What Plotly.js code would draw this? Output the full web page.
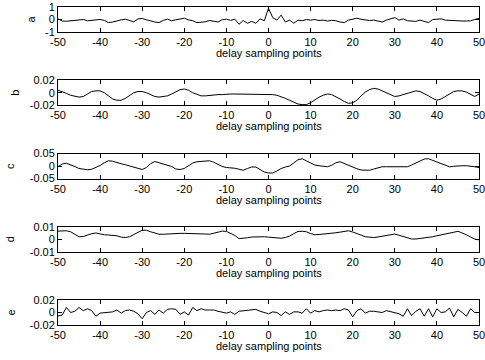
<!DOCTYPE html>
<html>
<head>
<meta charset="utf-8">
<script src="https://cdn.plot.ly/plotly-3.0.1.min.js"></script>
<style>html,body{margin:0;padding:0;background:#fff;}#chart{width:485px;height:360px;}</style>
</head>
<body>
<div id="chart"></div>
<script>
const delays = [];
for (let k = -50; k <= 50; k++) delays.push(k);

const panelNames = ["a", "b", "c", "d", "e"];
const xTickVals = [-50, -40, -30, -20, -10, 0, 10, 20, 30, 40, 50];
const xTitle = "delay sampling points";

const yRanges = [[-1, 1], [-0.02, 0.02], [-0.05, 0.05], [-0.01, 0.01], [-0.02, 0.02]];
const yTickVals = [[-1, 0, 1], [-0.02, 0, 0.02], [-0.05, 0, 0.05], [-0.01, 0, 0.01], [-0.02, 0, 0.02]];
const yTickText = [["-1", "0", "1"], ["-0.02", "0", "0.02"], ["-0.05", "0", "0.05"], ["-0.01", "0", "0.01"], ["-0.02", "0", "0.02"]];

const seriesA = [0.05,-0.12,-0.14,-0.12,-0.08,-0.02,0.0,-0.1,-0.07,-0.03,
  0.0,-0.07,-0.25,-0.2,-0.1,-0.03,0.02,-0.08,-0.18,0.05,
  0.08,-0.02,-0.12,-0.2,-0.25,-0.07,0.03,-0.1,-0.02,0.05,
  0.1,-0.03,-0.1,-0.25,-0.22,-0.18,-0.08,-0.15,-0.2,-0.02,
  0.03,-0.07,0.03,-0.38,-0.08,-0.3,-0.15,-0.3,0.05,-0.1,
  0.9,
  0.15,-0.05,0.35,-0.2,-0.05,-0.3,-0.05,-0.1,0.0,-0.05,
  0.0,-0.08,-0.05,-0.12,-0.07,-0.1,-0.2,-0.25,-0.05,0.05,
  0.1,0.02,-0.05,-0.08,-0.05,-0.1,-0.2,-0.05,0.05,0.15,
  -0.05,0.05,-0.1,-0.12,-0.15,-0.05,-0.12,-0.25,0.0,0.05,
  0.05,-0.05,-0.08,-0.1,-0.12,-0.12,-0.12,-0.1,0.0,0.1];

const seriesB = [0.004,0.002,-0.001,-0.004,-0.006,-0.007,-0.006,-0.002,0.002,0.003,
  0.003,0.0,-0.005,-0.010,-0.012,-0.012,-0.009,-0.004,0.0,0.002,
  0.002,0.0,-0.003,-0.006,-0.007,-0.006,-0.005,-0.002,0.001,0.005,
  0.006,0.004,0.0,-0.003,-0.005,-0.005,-0.004,-0.004,-0.003,-0.003,
  -0.002,-0.002,-0.002,-0.002,-0.002,-0.002,-0.002,-0.002,-0.002,-0.002,
  -0.002,
  -0.003,-0.004,-0.006,-0.009,-0.012,-0.015,-0.018,-0.019,-0.019,-0.016,
  -0.011,-0.007,-0.004,-0.002,-0.003,-0.006,-0.010,-0.014,-0.017,-0.016,
  -0.012,-0.005,0.001,0.005,0.007,0.006,0.003,-0.001,-0.004,-0.006,
  -0.005,-0.003,0.0,0.002,0.003,0.002,-0.001,-0.005,-0.009,-0.012,
  -0.010,-0.006,-0.002,0.002,0.003,0.003,0.001,-0.002,-0.006,-0.002];

const seriesC = [-0.003,0.008,0.011,0.006,-0.002,-0.010,-0.014,-0.015,-0.013,-0.007,
  0.002,0.013,0.021,0.019,0.013,0.009,0.005,0.001,-0.003,-0.009,
  -0.014,-0.006,0.010,0.018,0.013,0.008,0.004,-0.002,-0.012,-0.014,
  -0.010,0.002,0.012,0.017,0.018,0.018,0.021,0.015,0.006,-0.002,
  -0.006,-0.007,-0.009,-0.013,-0.017,-0.010,-0.004,-0.004,-0.014,-0.024,
  -0.028,
  -0.028,-0.020,-0.010,-0.004,0.000,0.012,0.025,0.029,0.020,0.010,
  0.004,0.001,-0.001,-0.003,0.003,0.013,0.017,0.010,0.002,-0.006,
  -0.011,-0.016,-0.017,-0.017,-0.012,-0.006,-0.003,-0.003,-0.003,-0.004,
  -0.005,-0.006,-0.003,0.004,0.011,0.020,0.028,0.029,0.022,0.016,
  0.008,0.002,-0.003,-0.001,0.001,0.001,0.001,0.000,-0.003,-0.006];

const seriesD = [0.0065,0.0068,0.0068,0.006,0.004,0.002,0.0022,0.0035,0.0045,0.005,
  0.0042,0.0036,0.0034,0.0033,0.0028,0.0017,0.0014,0.002,0.0035,0.0055,
  0.0072,0.0072,0.006,0.0048,0.004,0.004,0.0043,0.0046,0.0047,0.0047,
  0.0047,0.0047,0.0047,0.0047,0.0046,0.0042,0.004,0.0048,0.006,0.0065,
  0.0063,0.0048,0.003,0.0005,0.0006,0.0012,0.0018,0.002,0.002,0.002,
  0.0017,
  0.0016,0.0012,0.0008,0.0014,0.0025,0.0045,0.0062,0.0064,0.006,0.0045,
  0.0036,0.0038,0.004,0.0042,0.0048,0.0052,0.0057,0.006,0.0068,0.0058,
  0.0048,0.0033,0.002,0.0016,0.0014,0.0018,0.0025,0.003,0.0038,0.0042,
  0.0032,0.0022,0.0008,0.0002,0.0002,0.0005,0.0008,0.0014,0.002,0.0028,
  0.0034,0.0038,0.0044,0.0056,0.0064,0.0052,0.0036,0.0018,0.0001,-0.0005];

const seriesE = [-0.0055,-0.004,0.008,0.0,0.002,0.008,0.003,0.006,0.003,-0.006,
  -0.001,0.0,0.0,0.001,0.004,-0.001,0.003,0.004,0.002,-0.002,
  -0.010,0.0,0.003,-0.003,0.004,-0.001,0.005,0.006,0.005,-0.003,
  0.001,-0.004,0.008,0.003,0.006,0.004,0.004,0.004,0.002,0.001,
  -0.001,0.001,-0.003,0.002,0.003,0.003,0.004,0.005,0.002,0.0,
  -0.002,
  0.001,0.0,-0.005,0.001,-0.003,0.001,0.001,-0.001,0.006,-0.001,
  0.003,0.001,0.003,0.004,0.003,0.004,0.003,0.006,0.004,-0.007,
  0.003,0.006,-0.001,0.002,0.002,0.001,0.0,0.003,0.001,0.0,
  -0.002,-0.006,0.006,-0.005,0.002,0.006,-0.006,0.006,-0.007,0.006,
  0.0,0.001,0.007,-0.007,0.005,0.0,-0.006,0.006,0.0,0.0];

const allSeries = [seriesA, seriesB, seriesC, seriesD, seriesE];

const W = 485, H = 360;
const plotLeft = 58, plotRight = 479;
const boxTops = [7, 80.25, 153.5, 226.75, 300];
const boxH = 25;
const yLabelX = [30, 15, 10, 10, 10];
const font = {family: "Liberation Sans, Arial, sans-serif", size: 11, color: "#000"};

const traces = [];
const annotations = [];
const layout = {
  width: W, height: H,
  margin: {l: 0, r: 0, t: 0, b: 0},
  paper_bgcolor: "#fff", plot_bgcolor: "#fff",
  showlegend: false,
  font: font,
  annotations: annotations
};

for (let i = 0; i < 5; i++) {
  const n = i === 0 ? "" : String(i + 1);
  traces.push({
    x: delays, y: allSeries[i], type: "scatter", mode: "lines",
    line: {color: "#000", width: 1},
    xaxis: "x" + n, yaxis: "y" + n, hoverinfo: "skip"
  });
  const top = boxTops[i], bot = boxTops[i] + boxH;
  layout["xaxis" + n] = {
    domain: [plotLeft / W, plotRight / W],
    anchor: "y" + n,
    range: [-50, 50],
    tickmode: "array", tickvals: xTickVals, ticktext: xTickVals.map(String),
    ticks: "inside", ticklen: 4, tickcolor: "#000", tickwidth: 1,
    showline: true, linecolor: "#000", linewidth: 1, mirror: "ticks",
    showgrid: false, zeroline: false,
    ticklabeloverflow: "allow",
    tickfont: font
  };
  layout["yaxis" + n] = {
    domain: [1 - bot / H, 1 - top / H],
    anchor: "x" + n,
    range: yRanges[i],
    tickmode: "array", tickvals: yTickVals[i], ticktext: yTickText[i],
    ticks: "inside", ticklen: 4, tickcolor: "#000", tickwidth: 1,
    showline: true, linecolor: "#000", linewidth: 1, mirror: "ticks",
    showgrid: false, zeroline: false,
    tickfont: font
  };
  annotations.push({
    text: xTitle, xref: "paper", yref: "paper",
    x: (plotLeft + plotRight) / 2 / W, y: 1 - (bot + 21) / H,
    xanchor: "center", yanchor: "middle", showarrow: false, font: font
  });
  annotations.push({
    text: panelNames[i], xref: "paper", yref: "paper",
    x: yLabelX[i] / W, y: 1 - (top + boxH / 2) / H,
    xanchor: "center", yanchor: "middle", textangle: -90, showarrow: false, font: font
  });
}

Plotly.newPlot("chart", traces, layout, {staticPlot: true, displayModeBar: false});
</script>
</body>
</html>
